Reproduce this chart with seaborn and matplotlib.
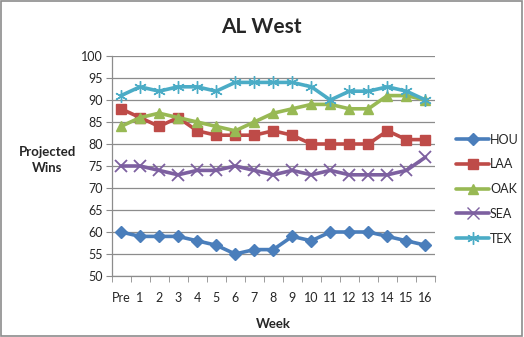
import matplotlib
matplotlib.use("Agg")
import matplotlib.pyplot as plt
import seaborn as sns
import pandas as pd
from matplotlib.patches import Rectangle
from matplotlib.lines import Line2D

weeks = ["Pre", "1", "2", "3", "4", "5", "6", "7", "8", "9", "10", "11", "12", "13", "14", "15", "16"]
hou = [60, 59, 59, 59, 58, 57, 55, 56, 56, 59, 58, 60, 60, 60, 59, 58, 57]
laa = [88, 86, 84, 86, 83, 82, 82, 82, 83, 82, 80, 80, 80, 80, 83, 81, 81]
oak = [84, 86, 87, 86, 85, 84, 83, 85, 87, 88, 89, 89, 88, 88, 91, 91, 90]
sea = [75, 75, 74, 73, 74, 74, 75, 74, 73, 74, 73, 74, 73, 73, 73, 74, 77]
tex = [91, 93, 92, 93, 93, 92, 94, 94, 94, 94, 93, 90, 92, 92, 93, 92, 90]
teams = ["HOU", "LAA", "OAK", "SEA", "TEX"]
series = [hou, laa, oak, sea, tex]
colors = ["#4A7EBB", "#BE4B48", "#98B954", "#7D60A0", "#4BACC6"]
markers = ["D", "s", "^", "x", (6, 2, 0)]
msizes = [6, 7, 7, 8, 9]

sns.set_style("white")
plt.rcParams["font.family"] = ["Lato", "DejaVu Sans"]

rows = []
for t, vals in zip(teams, series):
    for i, v in enumerate(vals):
        rows.append({"team": t, "idx": i, "wins": v})
df = pd.DataFrame(rows)

fig = plt.figure(figsize=(5.24, 3.37), dpi=100)
ax = fig.add_axes([111.5 / 524, (337 - 276) / 337, (435 - 111.5) / 524, (276 - 56) / 337])

for t, c, m, ms in zip(teams, colors, markers, msizes):
    sub = df[df["team"] == t]
    mew = 1.0 if t != "SEA" else 1.3
    sns.lineplot(data=sub, x="idx", y="wins", ax=ax, color=c, linewidth=2.6,
                 marker=m, markersize=ms, markeredgecolor=c, markeredgewidth=mew,
                 markerfacecolor=c, legend=False, zorder=3)

ax.set_xlim(-0.5, len(weeks) - 0.5)
ax.set_ylim(50, 100)
ax.set_yticks(range(50, 101, 5))
ax.set_xticks(range(len(weeks)))
ax.set_xticklabels(weeks)
ax.grid(axis="y", color="#8c8c8c", linewidth=0.9)
ax.set_axisbelow(True)
for s in ["top", "right"]:
    ax.spines[s].set_visible(False)
for s in ["left", "bottom"]:
    ax.spines[s].set_color("#8c8c8c")
    ax.spines[s].set_linewidth(0.9)
ax.tick_params(axis="y", left=True, length=4, color="#8c8c8c", labelsize=9, pad=2)
ax.tick_params(axis="x", bottom=False, labelsize=9, pad=8)
# minor ticks at category boundaries
ax.set_xticks([i - 0.5 for i in range(len(weeks) + 1)], minor=True)
ax.tick_params(axis="x", which="minor", bottom=True, length=4, color="#8c8c8c")

ax.set_xlabel("Week", fontsize=9.5, fontweight="bold", labelpad=10)
ax.set_ylabel("")
fig.text(47 / 524, 1 - 160 / 337, "Projected\nWins", ha="center", va="center",
         fontsize=9.5, fontweight="bold", linespacing=1.3)
fig.text(261 / 524, 1 - 27 / 337, "AL West", ha="center", va="center",
         fontsize=15, fontweight="bold")

handles = [Line2D([0], [0], color=c, linewidth=2.6, marker=m, markersize=ms,
                  markeredgecolor=c, markerfacecolor=c) for c, m, ms in zip(colors, markers, msizes)]
fig.legend(handles, teams, loc="center left", bbox_to_anchor=(450 / 524, 1 - 189 / 337),
           frameon=False, fontsize=9, handlelength=2.6, labelspacing=1.02, handletextpad=0.1,
           borderpad=0)

fig.patches.append(Rectangle((0.002, 0.003), 0.995, 0.994, transform=fig.transFigure,
                             fill=False, edgecolor="#8c8c8c", linewidth=1.2))

fig.savefig("out.png", dpi=100)
